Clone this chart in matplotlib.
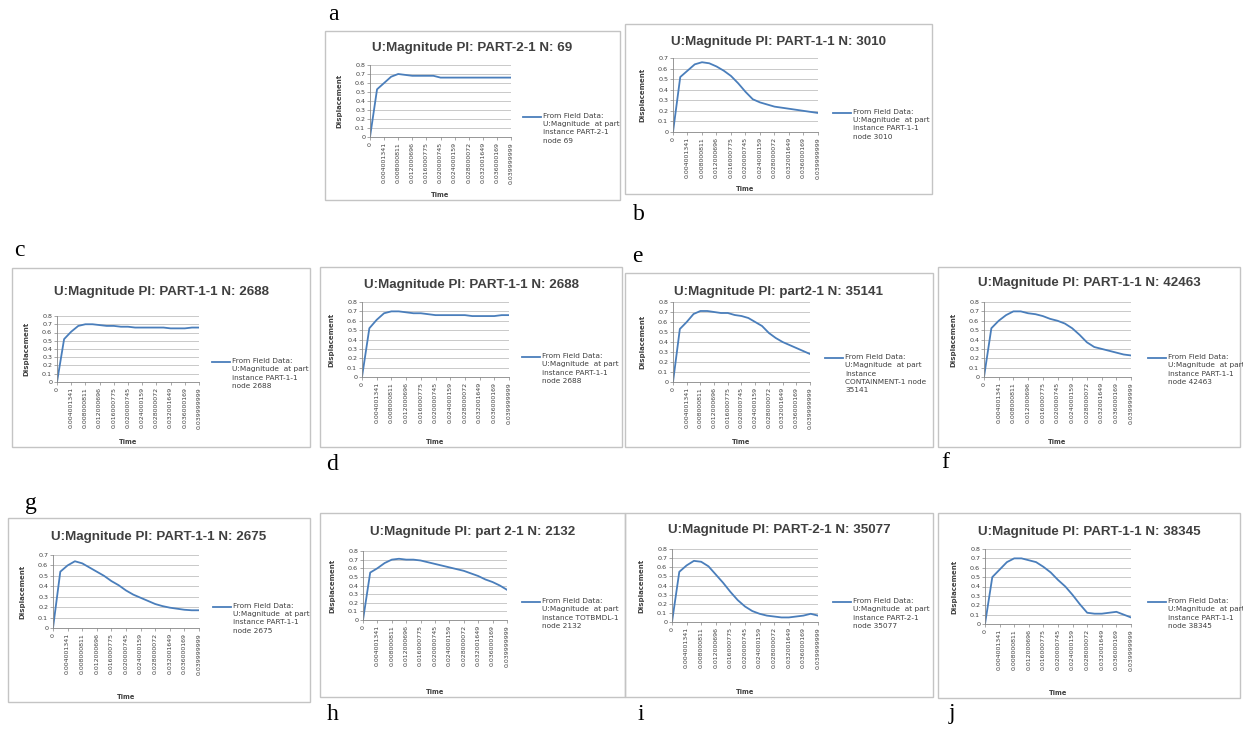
import matplotlib
matplotlib.use('Agg')
import matplotlib.pyplot as plt
from matplotlib.patches import Rectangle
from matplotlib.lines import Line2D
from matplotlib.ticker import MultipleLocator, FuncFormatter

W, H = 1243, 730

# category axis: 21 output steps, Excel labels every second one
time_labels = ['0', '0.004001341', '0.008000811', '0.012000696', '0.016000775',
               '0.020000745', '0.024000159', '0.028000072', '0.032001649',
               '0.036000169', '0.039999999']

disp_a = [0, 0.53, 0.60, 0.67, 0.70, 0.69, 0.68, 0.68, 0.68, 0.68, 0.66,
          0.66, 0.66, 0.66, 0.66, 0.66, 0.66, 0.66, 0.66, 0.66, 0.66]
disp_b = [0, 0.52, 0.58, 0.64, 0.66, 0.65, 0.62, 0.58, 0.53, 0.46, 0.38,
          0.31, 0.28, 0.26, 0.24, 0.23, 0.22, 0.21, 0.20, 0.19, 0.18]
disp_c = [0, 0.52, 0.61, 0.68, 0.70, 0.70, 0.69, 0.68, 0.68, 0.67, 0.67,
          0.66, 0.66, 0.66, 0.66, 0.66, 0.65, 0.65, 0.65, 0.66, 0.66]
disp_d = [0, 0.52, 0.61, 0.68, 0.70, 0.70, 0.69, 0.68, 0.68, 0.67, 0.66,
          0.66, 0.66, 0.66, 0.66, 0.65, 0.65, 0.65, 0.65, 0.66, 0.66]
disp_e = [0, 0.53, 0.60, 0.68, 0.71, 0.71, 0.70, 0.69, 0.69, 0.67, 0.66,
          0.64, 0.60, 0.56, 0.49, 0.44, 0.40, 0.37, 0.34, 0.31, 0.28]
disp_f = [0, 0.52, 0.60, 0.66, 0.70, 0.70, 0.68, 0.67, 0.65, 0.62, 0.60,
          0.57, 0.52, 0.45, 0.37, 0.32, 0.30, 0.28, 0.26, 0.24, 0.23]
disp_g = [0, 0.54, 0.60, 0.64, 0.62, 0.58, 0.54, 0.50, 0.45, 0.41, 0.36,
          0.32, 0.29, 0.26, 0.23, 0.21, 0.195, 0.185, 0.175, 0.17, 0.17]
disp_h = [0, 0.55, 0.60, 0.66, 0.70, 0.71, 0.70, 0.70, 0.69, 0.67, 0.65,
          0.63, 0.61, 0.59, 0.57, 0.54, 0.51, 0.47, 0.44, 0.40, 0.35]
disp_i = [0, 0.55, 0.62, 0.67, 0.66, 0.61, 0.52, 0.43, 0.33, 0.24, 0.17,
          0.12, 0.09, 0.07, 0.06, 0.05, 0.05, 0.06, 0.07, 0.09, 0.07]
disp_j = [0, 0.50, 0.58, 0.66, 0.70, 0.70, 0.68, 0.66, 0.61, 0.55, 0.47,
          0.40, 0.31, 0.21, 0.12, 0.11, 0.11, 0.12, 0.13, 0.10, 0.07]

titles = {
    'a': 'U:Magnitude PI: PART-2-1 N: 69',
    'b': 'U:Magnitude PI: PART-1-1 N: 3010',
    'c': 'U:Magnitude PI: PART-1-1 N: 2688',
    'd': 'U:Magnitude PI: PART-1-1 N: 2688',
    'e': 'U:Magnitude PI: part2-1 N: 35141',
    'f': 'U:Magnitude PI: PART-1-1 N: 42463',
    'g': 'U:Magnitude PI: PART-1-1 N: 2675',
    'h': 'U:Magnitude PI: part 2-1 N: 2132',
    'i': 'U:Magnitude PI: PART-2-1 N: 35077',
    'j': 'U:Magnitude PI: PART-1-1 N: 38345',
}
legends = {
    'a': 'From Field Data:\nU:Magnitude  at part\ninstance PART-2-1\nnode 69',
    'b': 'From Field Data:\nU:Magnitude  at part\ninstance PART-1-1\nnode 3010',
    'c': 'From Field Data:\nU:Magnitude  at part\ninstance PART-1-1\nnode 2688',
    'd': 'From Field Data:\nU:Magnitude  at part\ninstance PART-1-1\nnode 2688',
    'e': 'From Field Data:\nU:Magnitude  at part\ninstance\nCONTAINMENT-1 node\n35141',
    'f': 'From Field Data:\nU:Magnitude  at part\ninstance PART-1-1\nnode 42463',
    'g': 'From Field Data:\nU:Magnitude  at part\ninstance PART-1-1\nnode 2675',
    'h': 'From Field Data:\nU:Magnitude  at part\ninstance TOTBMDL-1\nnode 2132',
    'i': 'From Field Data:\nU:Magnitude  at part\ninstance PART-2-1\nnode 35077',
    'j': 'From Field Data:\nU:Magnitude  at part\ninstance PART-1-1\nnode 38345',
}
series = {'a': disp_a, 'b': disp_b, 'c': disp_c, 'd': disp_d, 'e': disp_e,
          'f': disp_f, 'g': disp_g, 'h': disp_h, 'i': disp_i, 'j': disp_j}
y_max = {'a': 0.8, 'b': 0.7, 'c': 0.8, 'd': 0.8, 'e': 0.8,
         'f': 0.8, 'g': 0.7, 'h': 0.8, 'i': 0.8, 'j': 0.8}

# layout in pixels: box (x0, y0, x1, y1), plot (left, top, right, bottom),
# title y, legend (x, y), letter (x, y)
layout = {
    'a': dict(box=(325, 31, 620, 200), plot=(370, 65, 511, 137), ty=48, leg=(523, 117), let=(333, 15)),
    'b': dict(box=(625, 24, 932, 194), plot=(673, 58, 818, 132), ty=42, leg=(833, 113), let=(639, 214)),
    'c': dict(box=(12, 268, 310, 447), plot=(57, 316, 199, 382), ty=292, leg=(212, 362), let=(19, 250)),
    'd': dict(box=(320, 267, 622, 447), plot=(362, 302, 509, 377), ty=285, leg=(522, 357), let=(332, 464)),
    'e': dict(box=(625, 273, 933, 447), plot=(673, 302, 810, 382), ty=292, leg=(825, 358), let=(637, 256)),
    'f': dict(box=(938, 267, 1240, 447), plot=(984, 302, 1131, 377), ty=283, leg=(1148, 358), let=(945, 463)),
    'g': dict(box=(8, 518, 310, 702), plot=(53, 555, 199, 628), ty=537, leg=(213, 607), let=(31, 503)),
    'h': dict(box=(320, 513, 625, 697), plot=(363, 551, 507, 620), ty=532, leg=(522, 602), let=(333, 714)),
    'i': dict(box=(625, 513, 933, 697), plot=(672, 549, 818, 622), ty=530, leg=(833, 602), let=(641, 714)),
    'j': dict(box=(938, 513, 1240, 698), plot=(985, 549, 1131, 624), ty=532, leg=(1148, 602), let=(952, 714)),
}

LINE = '#4a7ebb'
TXT = '#404040'
NARROW = ['Liberation Sans Narrow', 'Liberation Sans', 'DejaVu Sans']


def fx(x):
    return x / W


def fy(y):
    return 1 - y / H


fig = plt.figure(figsize=(W / 100, H / 100), dpi=100)

for key in 'abcdefghij':
    L = layout[key]
    x0, y0, x1, y1 = L['box']
    fig.add_artist(Rectangle((fx(x0), fy(y1)), (x1 - x0) / W, (y1 - y0) / H,
                             transform=fig.transFigure, fill=False,
                             ec='#c4c4c4', lw=1.0))
    fig.text(fx(L['let'][0]), fy(L['let'][1]), key, fontsize=17,
             family='Liberation Serif', ha='center', va='center')

    pl, pt, pr, pb = L['plot']
    ax = fig.add_axes([fx(pl), fy(pb), (pr - pl) / W, (pb - pt) / H])
    vals = series[key]
    ax.plot(range(len(vals)), vals, color=LINE, lw=1.3)
    ax.set_xlim(0, len(vals) - 1)
    ax.set_ylim(0, y_max[key])
    ax.yaxis.set_major_locator(MultipleLocator(0.1))
    ax.yaxis.set_major_formatter(FuncFormatter(lambda v, p: '0' if abs(v) < 1e-9 else f'{v:.1f}'))
    ax.set_xticks(range(0, len(vals), 2))
    ax.set_xticklabels(time_labels, rotation=90, fontsize=4.5, color=TXT)
    ax.tick_params(axis='y', labelsize=4.6, labelcolor=TXT, length=2, width=0.5,
                   color='#868686', pad=1.5)
    ax.tick_params(axis='x', length=2, width=0.5, color='#868686', pad=1.5)
    ax.yaxis.grid(True, color='#c0c0c0', lw=0.6)
    ax.set_axisbelow(True)
    for s in ('top', 'right'):
        ax.spines[s].set_visible(False)
    for s in ('left', 'bottom'):
        ax.spines[s].set_color('#868686')
        ax.spines[s].set_linewidth(0.6)
    ax.set_facecolor('none')

    cx = (x0 + x1) / 2
    fig.text(fx(cx), fy(L['ty']), titles[key], fontsize=9.6, weight='bold',
             family=NARROW, color=TXT, ha='center', va='center')
    fig.text(fx(pl - 31), fy((pt + pb) / 2), 'Displacement', fontsize=5,
             weight='bold', rotation=90, color=TXT, ha='center', va='center')
    fig.text(fx((pl + pr) / 2), fy(y1 - 5), 'Time', fontsize=4.8, weight='bold',
             color=TXT, ha='center', va='center')

    lx, ly = L['leg']
    fig.add_artist(Line2D([fx(lx), fx(lx + 18)], [fy(ly), fy(ly)], color=LINE,
                          lw=1.3, transform=fig.transFigure))
    fig.text(fx(lx + 20), fy(ly - 4), legends[key], fontsize=5.3, color=TXT,
             ha='left', va='top', linespacing=1.45)

fig.savefig('out.png', dpi=100, facecolor='white')
